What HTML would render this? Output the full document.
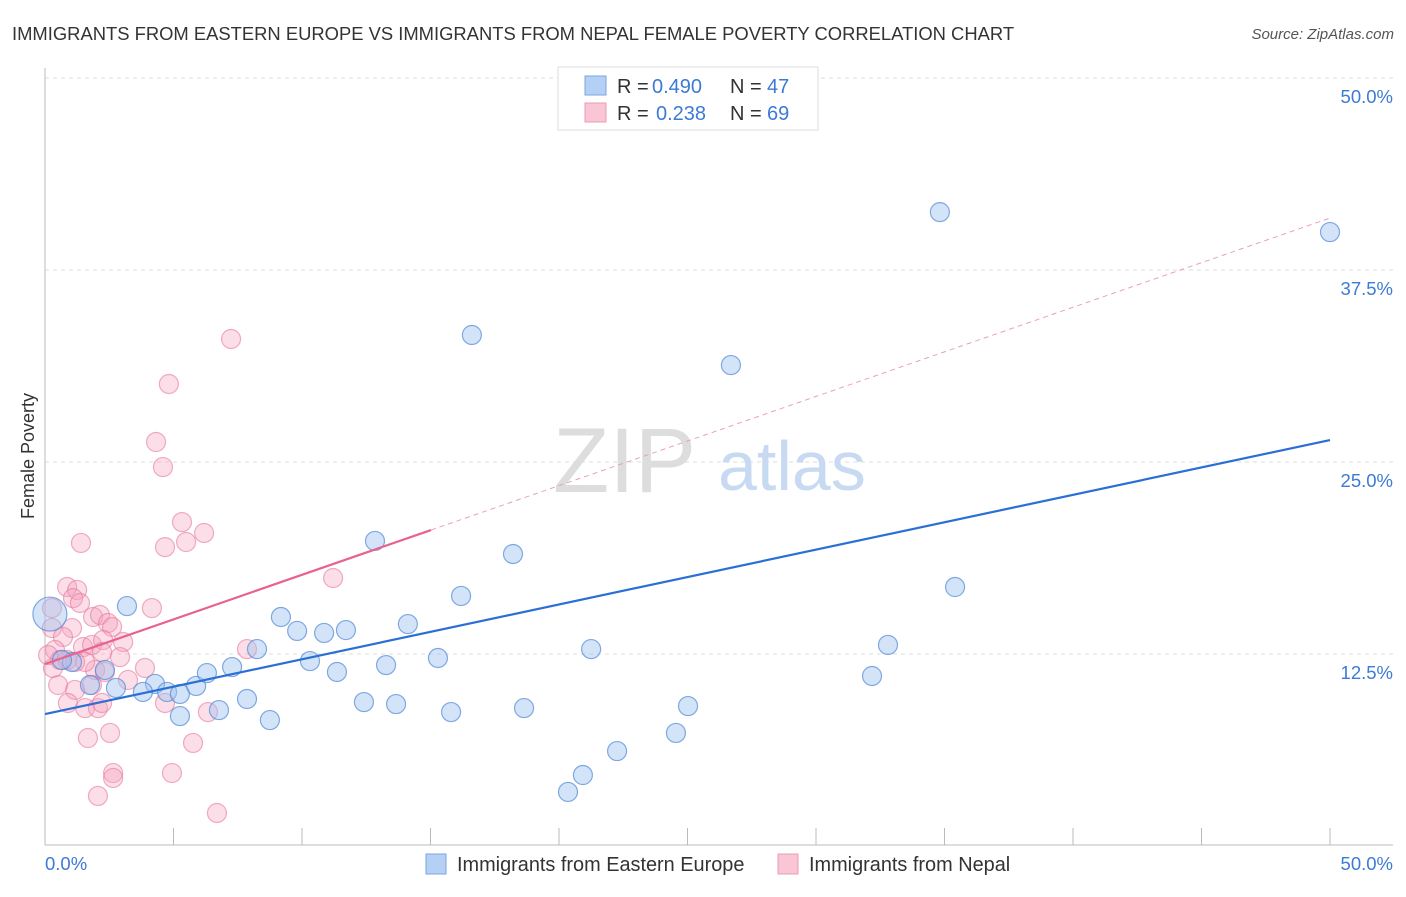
<!DOCTYPE html>
<html><head><meta charset="utf-8">
<style>
body{margin:0;background:#fff;font-family:"Liberation Sans",sans-serif;}
svg text{font-family:"Liberation Sans",sans-serif;}
</style></head>
<body>
<svg width="1406" height="892" viewBox="0 0 1406 892" xmlns="http://www.w3.org/2000/svg">
<text x="12" y="40" font-size="18.4" fill="#333">IMMIGRANTS FROM EASTERN EUROPE VS IMMIGRANTS FROM NEPAL FEMALE POVERTY CORRELATION CHART</text>
<text x="1394" y="39" font-size="15" fill="#555" font-style="italic" text-anchor="end">Source: ZipAtlas.com</text>
<text transform="translate(34,456) rotate(-90)" font-size="18" fill="#333" text-anchor="middle">Female Poverty</text>
<g id="grid"></g>
<g>
<text x="553" y="492" font-size="92" fill="#ddd" font-family="Liberation Serif,serif">ZIP</text>
<text x="718" y="490" font-size="70" fill="#c8daf2">atlas</text>
</g>
<g id="marks"></g>
<g>
<rect x="558" y="67" width="260" height="63" fill="#fff" stroke="#ddd"/>
<rect x="585" y="76" width="21" height="19" fill="#b5d0f5" stroke="#7aa6e0"/>
<rect x="585" y="103" width="21" height="19" fill="#f9c6d5" stroke="#ea9bb3"/>
<text x="617" y="93" font-size="20" fill="#333">R =</text>
<text x="652" y="93" font-size="20" fill="#3d7ad6">0.490</text>
<text x="730" y="93" font-size="20" fill="#333">N =</text>
<text x="767" y="93" font-size="20" fill="#3d7ad6">47</text>
<text x="617" y="120" font-size="20" fill="#333">R =</text>
<text x="656" y="120" font-size="20" fill="#3d7ad6">0.238</text>
<text x="730" y="120" font-size="20" fill="#333">N =</text>
<text x="767" y="120" font-size="20" fill="#3d7ad6">69</text>
</g>
<g>
<rect x="426" y="854" width="20" height="20" fill="#b5d0f5" stroke="#7aa6e0"/>
<text x="457" y="871" font-size="19.9" fill="#333">Immigrants from Eastern Europe</text>
<rect x="778" y="854" width="20" height="20" fill="#f9c6d5" stroke="#ea9bb3"/>
<text x="809" y="871" font-size="19.9" fill="#333">Immigrants from Nepal</text>
</g>
</svg>
<script>
const yTicks=[12.5,25,37.5,50];
const yTickLabels=["12.5%","25.0%","37.5%","50.0%"];
const xTickLabels=["0.0%","50.0%"];
const blueX=[3.19,4.28,4.75,3.81,2.76,1.75,2.33,5.25,5.88,6.30,7.28,7.86,5.25,6.77,8.75,8.25,9.18,9.81,10.31,10.86,11.36,11.71,12.41,12.84,13.27,13.66,14.12,15.29,15.80,16.19,16.61,18.21,18.64,20.35,20.93,21.25,22.26,24.55,25.02,26.69,32.18,32.80,34.82,35.41,50.0,1.05,0.66];
const blueY=[15.62,10.55,10.03,10.03,10.29,10.48,11.46,9.90,10.42,11.26,11.65,9.57,8.46,8.85,8.20,12.82,14.91,14.00,12.04,13.87,11.33,14.06,9.37,19.86,11.78,9.24,14.45,12.24,8.72,16.28,33.27,19.01,8.98,3.52,4.62,12.82,6.18,7.36,9.11,31.31,11.07,13.09,41.27,16.86,39.97,11.98,12.11];
const pinkX=[1.40,0.86,1.25,1.09,1.36,0.27,1.87,2.14,2.45,2.61,4.16,1.05,0.27,0.70,1.48,1.83,2.26,3.04,0.39,0.58,0.86,2.22,2.92,1.95,2.33,3.89,0.51,1.17,1.83,3.23,0.89,1.56,2.06,2.22,4.67,6.34,7.86,11.21,1.67,2.53,5.76,2.65,2.65,4.94,2.06,6.69,0.31,7.24,4.82,4.32,4.59,5.33,5.49,6.19,4.67,0.12,1.56,1.17];
const pinkY=[19.73,16.86,16.67,16.14,15.82,15.49,14.91,15.04,14.52,14.26,15.49,14.19,14.19,13.61,12.95,13.09,13.41,13.28,12.76,12.11,12.11,12.63,12.30,11.46,11.33,11.59,10.48,10.16,10.48,10.81,9.31,8.98,8.98,9.31,9.31,8.72,12.82,17.45,7.03,7.36,6.71,4.75,4.43,4.75,3.26,2.15,11.59,33.01,30.08,26.30,24.67,21.09,19.79,20.38,19.46,12.43,11.98,11.98];
const bigBlue=[0.19,15.10];
const blueLine=[8.59,26.43];
const pinkLine=[11.85,0.5806];
const pinkSolidEnd=15.02;

const NS="http://www.w3.org/2000/svg";
const X=v=>45+v/50*1285;
const Y=v=>846-v/12.5*192;
function mk(tag,attrs,parent){const e=document.createElementNS(NS,tag);for(const k in attrs)e.setAttribute(k,attrs[k]);parent.appendChild(e);return e;}
const grid=document.getElementById('grid');
const marks=document.getElementById('marks');
yTicks.forEach((t,i)=>{
 const l=mk('line',{x1:45,x2:1393,y1:Y(t),y2:Y(t),stroke:'#ddd','stroke-dasharray':'4,4'},grid);
 
 
 const tx=mk('text',{x:1393,y:Y(t)+25,'font-size':18.5,fill:'#3d7ad6','text-anchor':'end'},grid);
 tx.textContent=yTickLabels[i];
 
 
});
const ax=mk('line',{x1:45,x2:45,y1:68,y2:845,stroke:'#bbb'},grid);


const bx=mk('line',{x1:45,x2:1393,y1:845,y2:845,stroke:'#bbb'},grid);


for(let i=0;i<=10;i++){
 const t=mk('line',{x1:X(i*5),x2:X(i*5),y1:828,y2:845,stroke:'#bbb'},grid);
 
 
}
const xl0=mk('text',{x:45,y:870,'font-size':18.5,fill:'#3d7ad6'},grid);xl0.textContent=xTickLabels[0];


const xl1=mk('text',{x:1393,y:870,'font-size':18.5,fill:'#3d7ad6','text-anchor':'end'},grid);xl1.textContent=xTickLabels[1];



pinkX.forEach((v,i)=>{
 const c=mk('circle',{cx:X(v),cy:Y(pinkY[i]),r:9.5,fill:'rgba(244,160,188,0.35)',stroke:'rgba(232,120,158,0.6)','stroke-width':1.2},marks);
 
 
});
blueX.forEach((v,i)=>{
 const c=mk('circle',{cx:X(v),cy:Y(blueY[i]),r:9.5,fill:'rgba(160,196,240,0.45)',stroke:'rgba(80,135,215,0.7)','stroke-width':1.2},marks);
 
 
});
const bb=mk('circle',{cx:X(bigBlue[0]),cy:Y(bigBlue[1]),r:17,fill:'rgba(160,196,240,0.45)',stroke:'rgba(80,135,215,0.7)','stroke-width':1.2},marks);



const bl=mk('line',{x1:X(0),y1:Y(blueLine[0]),x2:X(50),y2:Y(blueLine[1]),stroke:'#2a6fd6','stroke-width':2.2},marks);


const pl=mk('line',{x1:X(0),y1:Y(pinkLine[0]),x2:X(pinkSolidEnd),y2:Y(pinkLine[0]+pinkLine[1]*pinkSolidEnd),stroke:'#e8628e','stroke-width':2.2},marks);


const pd=mk('line',{x1:X(pinkSolidEnd),y1:Y(pinkLine[0]+pinkLine[1]*pinkSolidEnd),x2:X(50),y2:Y(pinkLine[0]+pinkLine[1]*50),stroke:'#eaa0b8','stroke-width':1,'stroke-dasharray':'5,4'},marks);


</script>
</body></html>
